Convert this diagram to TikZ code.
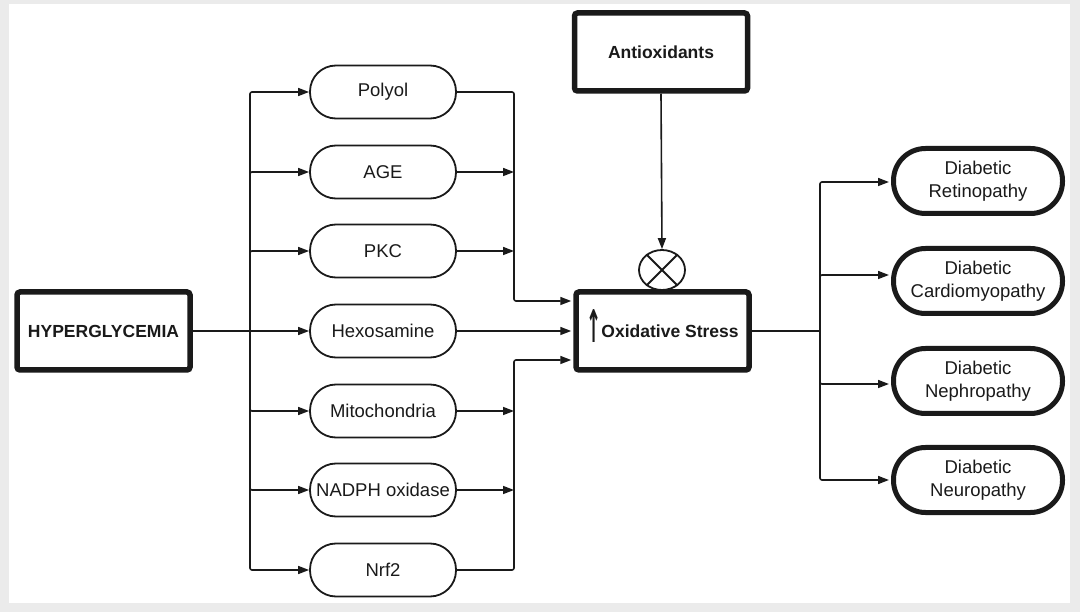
\documentclass[tikz,border=0pt]{standalone}
\usepackage{fontspec}
\usepackage{graphicx}
\setmainfont{Liberation Sans}
\newfontfamily\arrowfont{DejaVu Sans}
\usetikzlibrary{arrows.meta,shapes.geometric}
\definecolor{bggray}{HTML}{EBEBEB}
\definecolor{ink}{HTML}{1A1A1A}
\begin{document}
\begin{tikzpicture}[x=1pt,y=-1pt,
  conn/.style={draw=ink, line width=1.6pt, rounded corners=2pt},
  arr/.style={conn,-{Triangle[length=11pt,width=8pt]}},
  boxthick/.style={draw=ink, fill=white, line width=5.5pt, rounded corners=3pt, minimum width=173pt, minimum height=78pt, font=\bfseries\fontsize{17.5}{20}\selectfont, text=ink, inner sep=0pt},
  mech/.style={draw=ink, line width=1.8pt, rounded corners=26pt, minimum width=146pt, minimum height=53pt, font=\fontsize{18.5}{21}\selectfont, text=ink, inner sep=0pt},
  outc/.style={draw=ink, line width=5pt, rounded corners=32pt, minimum width=169pt, minimum height=65pt, font=\fontsize{18.5}{23}\selectfont, text=ink, align=center, inner sep=0pt}]
\useasboundingbox (0,0) rectangle (1080,612);
\fill[bggray] (0,0) rectangle (1080,612);
\fill[white] (9,4) rectangle (1070,603);

% main boxes
\node[boxthick] (hyper) at (103.5,331) {HYPERGLYCEMIA};
\node[boxthick] (anti) at (661,52) {Antioxidants};
\node[draw=ink, ellipse, line width=1.8pt, minimum width=46pt, minimum height=40pt, inner sep=0pt] (ox) at (662,270) {};
\draw[ink, line width=1.8pt] (ox.45) -- (ox.225) (ox.135) -- (ox.315);
\node[boxthick] (stress) at (662.5,331) {\smash{\raisebox{-5pt}{\scalebox{0.6}[1.5]{\arrowfont\bfseries\fontsize{30}{30}\selectfont ↑}}}Oxidative Stress};

% mechanisms
\node[mech] (m1) at (383,92) {Polyol};
\node[mech] (m2) at (383,172) {AGE};
\node[mech] (m3) at (383,251) {PKC};
\node[mech] (m4) at (383,331) {Hexosamine};
\node[mech] (m5) at (383,411) {Mitochondria};
\node[mech] (m6) at (383,490) {NADPH oxidase};
\node[mech] (m7) at (383,570) {Nrf2};

% outcomes
\node[outc] (o1) at (978,181) {Diabetic\\Retinopathy};
\node[outc] (o2) at (978,281) {Diabetic\\Cardiomyopathy};
\node[outc] (o3) at (978,381) {Diabetic\\Nephropathy};
\node[outc] (o4) at (978,480) {Diabetic\\Neuropathy};

% left trunk
\coordinate (lt) at (250,331);
\draw[arr] (hyper.east) -- (m4.west);
\foreach \m in {m1,m2,m3,m5,m6,m7} {\draw[arr] (lt) |- (\m.west);}

% right trunk
\coordinate (rtop) at (514,301);
\coordinate (rbot) at (514,360);
\draw[arr, shorten >=2pt] (m1.east) -| (rtop) -- (rtop -| stress.west);
\draw[arr, shorten >=2pt] (m7.east) -| (rbot) -- (rbot -| stress.west);
\foreach \m in {m2,m3,m5,m6} {\draw[arr] (\m.east) -- (\m.east -| rtop);}
\draw[arr, shorten >=2pt] (m4.east) -- (stress.west);

% antioxidants
\draw[arr] (anti.south) -- (ox.north);

% outputs
\coordinate (ot) at (820,331);
\draw[conn] (stress.east) -- (ot);
\draw[arr, shorten >=2pt] (ot) |- ([yshift=-1pt]o1.west);
\draw[arr, shorten >=2pt] (ot) |- ([yshift=6pt]o2.west);
\draw[arr, shorten >=2pt] (ot) |- ([yshift=-3pt]o3.west);
\draw[arr, shorten >=2pt] (ot) |- (o4.west);
\end{tikzpicture}
\end{document}
